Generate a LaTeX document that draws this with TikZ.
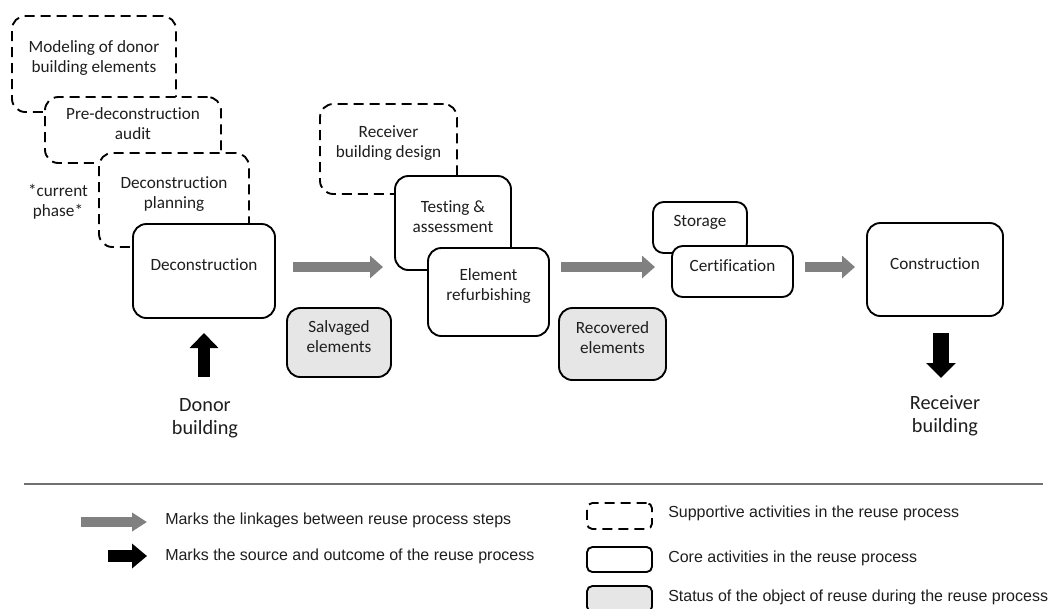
\documentclass[tikz,border=0pt]{standalone}
\usepackage{fontspec}
\setmainfont{Carlito}[Ligatures=NoCommon]
\newfontfamily\legendfont{Liberation Sans}
\usetikzlibrary{arrows.meta,fit}
\definecolor{linkgray}{HTML}{808080}
\definecolor{statusfill}{HTML}{E6E6E6}
\definecolor{rulegray}{HTML}{707070}
\definecolor{inkblack}{HTML}{1E1E1E}

\begin{document}
\begin{tikzpicture}[x=0.75pt,y=-0.75pt,
  box/.style={rounded corners=10pt, line width=1.4pt, fill=white, inner sep=0pt,
    align=center, text=inkblack, font=\fontsize{12.9}{15}\selectfont},
  support/.style={box, draw=black, dash pattern=on 7.5pt off 4.5pt},
  core/.style={box, draw=black},
  smallcore/.style={core, rounded corners=8pt},
  status/.style={box, draw=black, fill=statusfill},
  link/.style={draw=linkgray, line width=7.5pt, -{Triangle[length=9.75pt,width=16.5pt]}},
  plain/.style={text=inkblack, align=center, inner sep=0pt},
  legendtext/.style={text=inkblack, anchor=west, inner sep=0pt, font=\legendfont\fontsize{12}{14}\selectfont},
  legendbox/.style={rounded corners=4pt, line width=1.4pt, inner sep=0pt}
]
\useasboundingbox (0,0) rectangle (1055,608);

% supportive activities before deconstruction, stacked front to back
\node[support, fit={(12,16) (176,112)}] (model) {Modeling of donor\\building elements};
\node[support, fit={(45,97) (221,163)}] (audit) {Pre-deconstruction\\audit};
\node[support, fit={(99,153) (249,247)}] (plan) {Deconstruction\\planning};
\node[plain, font=\fontsize{12.9}{15}\selectfont] (phase) at (58,202) {*current\\phase*};
\node[core, fit={(133,224) (275,318)}] (decon) {Deconstruction};

% salvaged material stage
\node[status, fit={(287,308) (391,377)}] (salv) {Salvaged\\elements};

% receiver design, testing and refurbishing
\node[support, fit={(320,104) (457,194)}] (design) {Receiver\\building design};
\node[core, fit={(395,176) (511,270)}] (test) {Testing \&\\assessment};
\node[core, fit={(428,248) (549,336)}] (refurb) {Element\\refurbishing};

\node[status, fit={(559,308) (666,380)}] (recov) {Recovered\\elements};

% storage and certification
\node[smallcore, fit={(653,202) (747,253)}] (store) {Storage};
\node[smallcore, fit={(672,246) (793,297)}] (cert) {Certification};

\node[core, fit={(867,223) (1003,316)}] (constr) {Construction};

% linkages between process steps
\coordinate (l1s) at (293,267); \coordinate (l1e) at (383,267);
\coordinate (l2s) at (561,267); \coordinate (l2e) at (655,267);
\coordinate (l3s) at (805,267); \coordinate (l3e) at (855,267);
\draw[link] (l1s) -- (l1e);
\draw[link] (l2s) -- (l2e);
\draw[link] (l3s) -- (l3e);

% source and outcome
\node[plain, font=\fontsize{15.2}{17.3}\selectfont] (donor) at (205,418) {Donor\\building};
\node[plain, font=\fontsize{15.2}{17.3}\selectfont] (recv) at (945,416) {Receiver\\building};
\coordinate (upfoot) at (204,377); \coordinate (uptip) at (204,333);
\coordinate (dntop) at (941,333); \coordinate (dntip) at (941,378);
\draw[black, line width=9pt, -{Triangle[length=11.25pt,width=21pt]}] (upfoot) -- (uptip);
\draw[black, line width=12pt, -{Triangle[length=11.25pt,width=21.75pt]}] (dntop) -- (dntip);

% legend
\coordinate (rulel) at (24,484); \coordinate (ruler) at (1043,484);
\draw[rulegray, line width=1.5pt] (rulel) -- (ruler);

\coordinate (lg1s) at (81,522); \coordinate (lg1e) at (147,522);
\draw[draw=linkgray, line width=7.5pt, -{Triangle[length=11.25pt,width=13.5pt]}] (lg1s) -- (lg1e);
\node[legendtext] (lt1) at (165,520) {Marks the linkages between reuse process steps};

\coordinate (lg2s) at (108,556); \coordinate (lg2e) at (147,556);
\draw[black, line width=9pt, -{Triangle[length=11.25pt,width=18pt]}] (lg2s) -- (lg2e);
\node[legendtext] (lt2) at (165,556) {Marks the source and outcome of the reuse process};

\node[legendbox, draw=black, dash pattern=on 7.5pt off 4.5pt, fit={(587,503) (652,529)}] (lb1) {};
\node[legendtext] (lt3) at (668,513) {Supportive activities in the reuse process};
\node[legendbox, draw=black, fit={(587,547) (652,572)}] (lb2) {};
\node[legendtext] (lt4) at (668,558) {Core activities in the reuse process};
\node[legendbox, draw=black, fill=statusfill, fit={(587,586) (652,612)}] (lb3) {};
\node[legendtext] (lt5) at (668,597) {Status of the object of reuse during the reuse process};
\end{tikzpicture}
\end{document}
